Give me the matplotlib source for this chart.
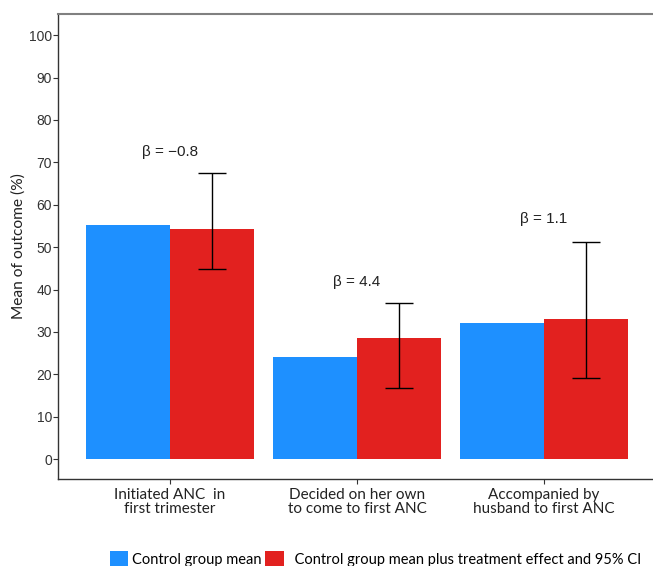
import numpy as np
import matplotlib.pyplot as plt
from matplotlib.patches import Patch

# dados
categorias = ["Initiated ANC  in\nfirst trimester",
              "Decided on her own\nto come to first ANC",
              "Accompanied by\nhusband to first ANC"]
controle = [55.2, 24.1, 32.1]
tratamento = [54.2, 28.5, 33.0]
ic_inf = [44.8, 16.7, 19.1]
ic_sup = [67.5, 36.8, 51.2]
betas = ["\u03b2 = \u22120.8", "\u03b2 = 4.4", "\u03b2 = 1.1"]
y_beta = [72.4, 41.7, 56.6]

azul = "#1E90FF"
vermelho = "#E2211F"

fig = plt.figure(figsize=(6.53, 5.66), dpi=100)
ax = fig.add_axes([58/653, 87/566, 598/653, 465/566])

x = np.arange(1, len(categorias) + 1)
w = 0.45
ax.bar(x - w/2, controle, width=w, color=azul, linewidth=0)
ax.bar(x + w/2, tratamento, width=w, color=vermelho, linewidth=0)

tr = np.array(tratamento)
err = [tr - np.array(ic_inf), np.array(ic_sup) - tr]
ax.errorbar(x + w/2, tr, yerr=err, fmt="none", ecolor="black",
            elinewidth=1.0, capsize=10, capthick=1.0)

for xi, yb, txt in zip(x, y_beta, betas):
    ax.text(xi, yb, txt, ha="center", va="center", fontsize=11,
            family=["Liberation Sans", "DejaVu Sans"], color="#222222")

ax.set_xlim(0.4, 3.6)
ax.set_ylim(-4.7, 105)
ax.set_yticks(np.arange(0, 101, 10))
ax.set_xticks(x)
ax.set_xticklabels(categorias, family="Lato", fontsize=11, color="#222222",
                   linespacing=1.0)
for t in ax.get_yticklabels():
    t.set_family("Liberation Sans")
    t.set_fontsize(10)
    t.set_color("#333333")
ax.tick_params(axis="both", length=3.6, width=0.8, color="#333333")
ax.tick_params(axis="y", pad=0.8)
ax.tick_params(axis="x", pad=3)
ax.set_ylabel("Mean of outcome (%)", family="Lato", fontsize=11.2,
              color="#222222", labelpad=2)

ax.spines["right"].set_visible(False)
ax.spines["top"].set_color("#808080")
ax.spines["top"].set_linewidth(1.5)
for s in ["left", "bottom"]:
    ax.spines[s].set_color("#333333")
    ax.spines[s].set_linewidth(1.0)

handles = [Patch(facecolor=azul, edgecolor="none"),
           Patch(facecolor=vermelho, edgecolor="none")]
fig.legend(handles, ["Control group mean",
                     "  Control group mean plus treatment effect and 95% CI"],
           loc="lower center", bbox_to_anchor=(0.575, -0.012), ncol=2,
           frameon=False, prop={"family": "Lato", "size": 10.5},
           handlelength=1.3, handleheight=1.3, handletextpad=0.25,
           columnspacing=0.2, borderaxespad=0.0)

fig.savefig("out.png", dpi=100)
